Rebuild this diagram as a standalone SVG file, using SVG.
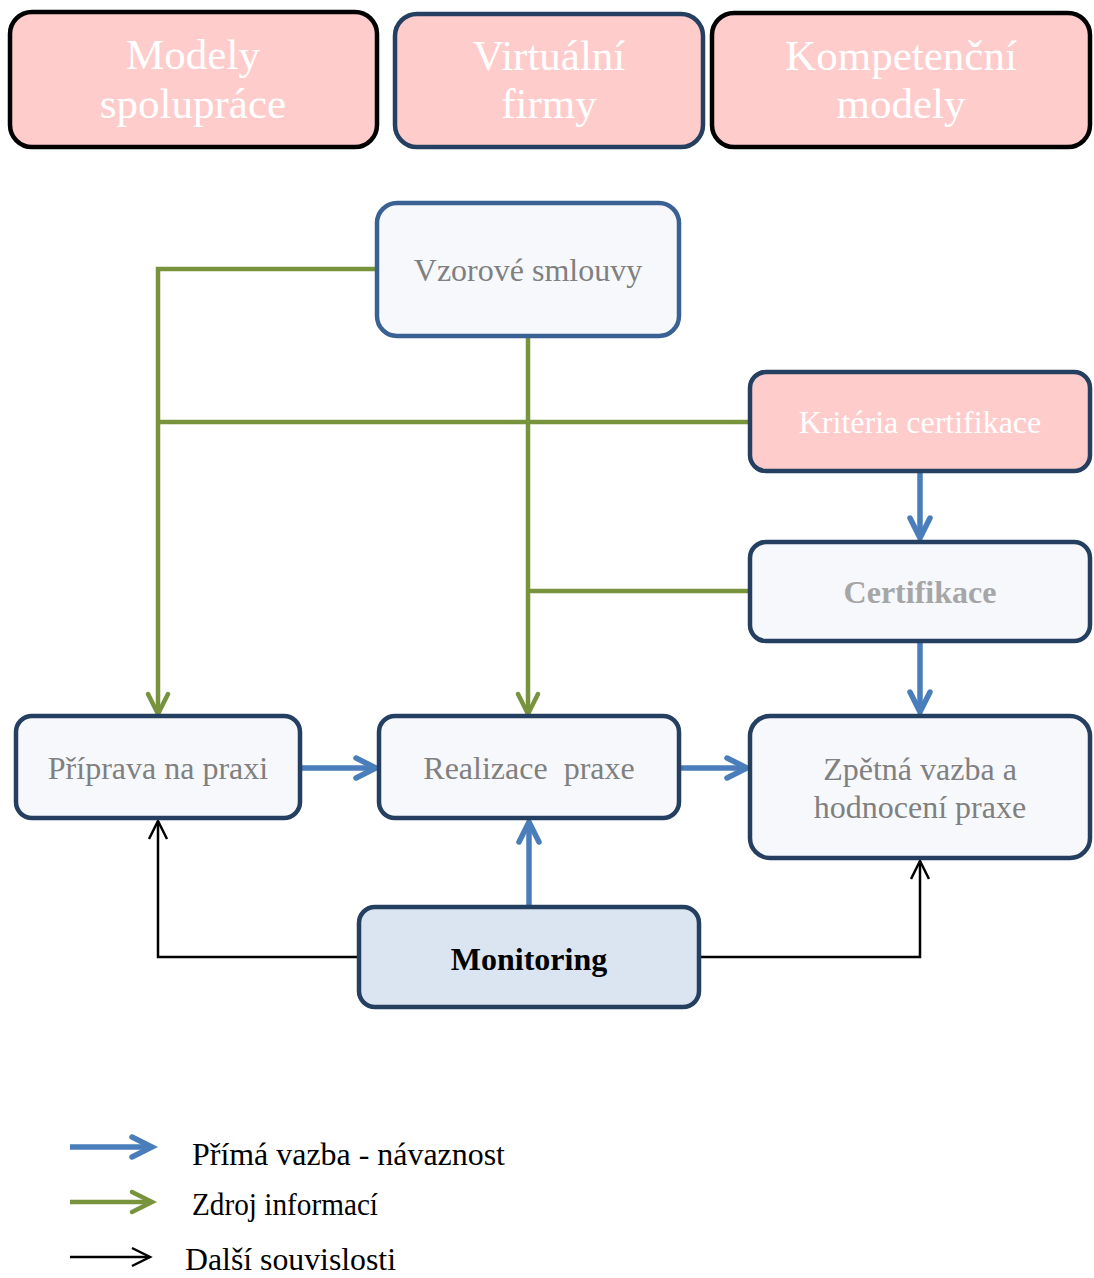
<svg xmlns="http://www.w3.org/2000/svg" width="1094" height="1278" viewBox="0 0 1094 1278">
<defs>
<style>
.box{stroke-width:4.5}
.pink{fill:#ffcccc}
.light{fill:#f7f8fc}
.mon{fill:#dbe5f1}
.navy{stroke:#243f60}
.blk{stroke:#000000}
.mid{stroke:#3a6194}
text{font-family:"Liberation Serif","Times New Roman",serif;text-anchor:middle}
.wt{fill:#ffffff;font-size:43px}
.wt2{fill:#ffffff;font-size:32px}
.gt{fill:#808080;font-size:32px}
.gb{fill:#a6a6a6;font-size:32px;font-weight:bold}
.bb{fill:#000000;font-size:32px;font-weight:bold}
.lg{fill:#000000;font-size:31px;text-anchor:start}
.green{fill:none;stroke:#77933c;stroke-width:4.5}
.blue{fill:none;stroke:#4a7ebb;stroke-width:5.5}
.black{fill:none;stroke:#000000;stroke-width:2.5}
</style>
<marker id="ahBlue" markerUnits="userSpaceOnUse" markerWidth="30" markerHeight="30" viewBox="-24 -15 30 30" refX="0" refY="0" orient="auto">
<polyline points="-20,-10 0,0 -20,10" fill="none" stroke="#4a7ebb" stroke-width="5.5" stroke-linecap="round" stroke-linejoin="miter"/>
</marker>
<marker id="ahGreen" markerUnits="userSpaceOnUse" markerWidth="30" markerHeight="30" viewBox="-24 -15 30 30" refX="0" refY="0" orient="auto">
<polyline points="-20,-10 0,0 -20,10" fill="none" stroke="#77933c" stroke-width="4.5" stroke-linecap="round" stroke-linejoin="miter"/>
</marker>
<marker id="ahBlack" markerUnits="userSpaceOnUse" markerWidth="30" markerHeight="30" viewBox="-24 -15 30 30" refX="0" refY="0" orient="auto">
<polyline points="-18,-9 0,0 -18,9" fill="none" stroke="#000000" stroke-width="2.5" stroke-linejoin="miter"/>
</marker>
</defs>
<rect width="1094" height="1278" fill="#ffffff"/>

<g id="connectors">
<polyline class="green" points="377,269 158,269 158,714" marker-end="url(#ahGreen)"/>
<line class="green" x1="750" y1="422" x2="158" y2="422"/>
<line class="green" x1="528" y1="336" x2="528" y2="714" marker-end="url(#ahGreen)"/>
<line class="green" x1="750" y1="591" x2="528" y2="591"/>
<line class="blue" x1="920" y1="471" x2="920" y2="538" marker-end="url(#ahBlue)"/>
<line class="blue" x1="920" y1="641" x2="920" y2="712" marker-end="url(#ahBlue)"/>
<line class="blue" x1="300" y1="768" x2="376" y2="768" marker-end="url(#ahBlue)"/>
<line class="blue" x1="679" y1="768" x2="747" y2="768" marker-end="url(#ahBlue)"/>
<line class="blue" x1="529" y1="907" x2="529" y2="822" marker-end="url(#ahBlue)"/>
<polyline class="black" points="359,957 158,957 158,821" marker-end="url(#ahBlack)"/>
<polyline class="black" points="699,957 920,957 920,861" marker-end="url(#ahBlack)"/>
</g>

<g id="modely-spoluprace">
<rect class="box pink blk" x="10" y="12" width="367" height="135" rx="22"/>
<text class="wt" x="193" y="69">Modely</text>
<text class="wt" x="193" y="118">spolupráce</text>
</g>
<g id="virtualni-firmy">
<rect class="box pink navy" x="395" y="14" width="308" height="133" rx="22"/>
<text class="wt" x="549" y="70">Virtuální</text>
<text class="wt" x="549" y="118">firmy</text>
</g>
<g id="kompetencni-modely">
<rect class="box pink blk" x="712" y="13" width="378" height="134" rx="22"/>
<text class="wt" x="901" y="70">Kompetenční</text>
<text class="wt" x="901" y="118">modely</text>
</g>

<g id="vzorove-smlouvy">
<rect class="box light mid" x="377" y="203" width="302" height="133" rx="20"/>
<text class="gt" x="528" y="281">Vzorové smlouvy</text>
</g>
<g id="kriteria-certifikace">
<rect class="box pink navy" x="750" y="372" width="340" height="99" rx="16"/>
<text class="wt2" x="920" y="433">Kritéria certifikace</text>
</g>
<g id="certifikace">
<rect class="box light navy" x="750" y="542" width="340" height="99" rx="16"/>
<text class="gb" x="920" y="603">Certifikace</text>
</g>
<g id="priprava">
<rect class="box light navy" x="16" y="716" width="284" height="102" rx="16"/>
<text class="gt" x="158" y="779">Příprava na praxi</text>
</g>
<g id="realizace">
<rect class="box light navy" x="379" y="716" width="300" height="102" rx="16"/>
<text class="gt" x="529" y="779" xml:space="preserve">Realizace  praxe</text>
</g>
<g id="zpetna-vazba">
<rect class="box light navy" x="750" y="716" width="340" height="142" rx="20"/>
<text class="gt" x="920" y="780">Zpětná vazba a</text>
<text class="gt" x="920" y="818">hodnocení praxe</text>
</g>
<g id="monitoring">
<rect class="box mon navy" x="359" y="907" width="340" height="100" rx="16"/>
<text class="bb" x="529" y="970">Monitoring</text>
</g>

<g id="legend">
<line class="blue" x1="70" y1="1147" x2="152" y2="1147" marker-end="url(#ahBlue)"/>
<text class="lg" x="192" y="1165" textLength="313" lengthAdjust="spacingAndGlyphs">Přímá vazba - návaznost</text>
<line class="green" x1="70" y1="1202" x2="152" y2="1202" marker-end="url(#ahGreen)"/>
<text class="lg" x="192" y="1215" textLength="186" lengthAdjust="spacingAndGlyphs">Zdroj informací</text>
<line class="black" x1="70" y1="1257" x2="150" y2="1257" marker-end="url(#ahBlack)"/>
<text class="lg" x="185" y="1270" textLength="211" lengthAdjust="spacingAndGlyphs">Další souvislosti</text>
</g>
</svg>
